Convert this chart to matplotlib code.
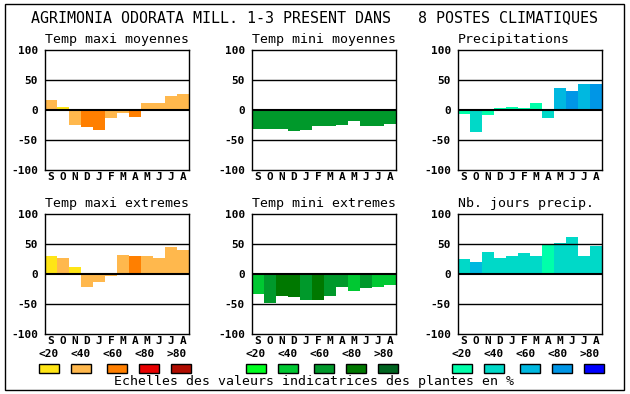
import matplotlib
matplotlib.use('Agg')
import matplotlib.pyplot as plt
from matplotlib.patches import Rectangle

W, H = 630, 394

months = ['S', 'O', 'N', 'D', 'J', 'F', 'M', 'A', 'M', 'J', 'J', 'A']
class_labels = ['<20', '<40', '<60', '<80', '>80']

warm_colors = ['#ffe516', '#ffb84d', '#ff7f00', '#e80000', '#b00c00']
green_colors = ['#00ff20', '#00c832', '#00992b', '#007800', '#006420']
blue_colors = ['#00ffaa', '#00d9c8', '#00b8e0', '#0096e6', '#0000ff']

# values in % and class index (0 = <20 ... 4 = >80)
tmax_moy = [17, 5, -25, -28, -33, -13, -5, -11, 11, 11, 24, 27]
tmax_moy_cls = [1, 0, 1, 2, 2, 1, 1, 2, 1, 1, 1, 1]
tmin_moy = [-31, -31, -31, -35, -33, -27, -27, -25, -18, -27, -27, -23]
tmin_moy_cls = [2] * 12
precip = [-6, -36, -8, 3, 5, 3, 12, -14, 37, 32, 44, 44]
precip_cls = [0, 1, 0, 0, 0, 0, 0, 1, 2, 3, 2, 3]
tmax_ext = [30, 27, 12, -21, -14, -3, 32, 30, 30, 27, 45, 40]
tmax_ext_cls = [0, 1, 0, 1, 1, 1, 1, 2, 1, 1, 1, 1]
tmin_ext = [-33, -49, -36, -38, -43, -44, -36, -21, -28, -24, -21, -18]
tmin_ext_cls = [1, 2, 3, 3, 2, 3, 2, 2, 1, 2, 1, 1]
nb_jours = [25, 20, 37, 27, 30, 35, 30, 49, 52, 62, 30, 47]
nb_jours_cls = [1, 2, 1, 1, 1, 1, 1, 0, 1, 1, 1, 1]

title = 'AGRIMONIA ODORATA MILL. 1-3 PRESENT DANS   8 POSTES CLIMATIQUES'
footer = 'Echelles des valeurs indicatrices des plantes en %'

MONO = 'DejaVu Sans Mono'
SMALL = 8

fig = plt.figure(figsize=(W / 100, H / 100), dpi=100)
fig.patch.set_facecolor('white')


def px_box(x0, y0, x1, y1):
    # pixel box (top-left origin) -> figure fraction rect
    return [x0 / W, 1 - y1 / H, (x1 - x0) / W, (y1 - y0) / H]


def panel(x0, y0, name, vals, cls, palette):
    ax = fig.add_axes(px_box(x0, y0, x0 + 144, y0 + 120))
    ax.bar(range(12), vals, width=1.0, color=[palette[c] for c in cls],
           linewidth=0, zorder=1)
    ax.set_xlim(-0.5, 11.5)
    ax.set_ylim(-100, 100)
    for v in (-50, 50):
        ax.axhline(v, color='black', lw=1.0, zorder=2)
    ax.axhline(0, color='black', lw=1.5, zorder=3)
    for s in ax.spines.values():
        s.set_linewidth(1.0)
    ax.set_yticks([-100, -50, 0, 50, 100])
    ax.set_yticklabels(['-100', '-50', '0', '50', '100'],
                       fontfamily=MONO, fontweight='bold', fontsize=SMALL)
    ax.set_xticks(range(12))
    ax.set_xticklabels(months, fontfamily=MONO, fontweight='bold',
                       fontsize=SMALL)
    ax.tick_params(length=0)
    ax.tick_params(axis='y', pad=5)
    ax.tick_params(axis='x', pad=1.5)
    # panel titles sit left-aligned on the axes edge
    fig.text(x0 / W, 1 - (y0 - 11) / H, name, fontfamily=MONO,
             fontsize=9.5, ha='left', va='center')
    return ax


cols = [45, 252, 458]
panel(cols[0], 50, 'Temp maxi moyennes', tmax_moy, tmax_moy_cls, warm_colors)
panel(cols[1], 50, 'Temp mini moyennes', tmin_moy, tmin_moy_cls, green_colors)
panel(cols[2], 50, 'Precipitations', precip, precip_cls, blue_colors)
panel(cols[0], 214, 'Temp maxi extremes', tmax_ext, tmax_ext_cls, warm_colors)
panel(cols[1], 214, 'Temp mini extremes', tmin_ext, tmin_ext_cls, green_colors)
panel(cols[2], 214, 'Nb. jours precip.', nb_jours, nb_jours_cls, blue_colors)

# legends under each column
swatch_x = [0, 32, 68, 100, 132]
for col, palette in zip(cols, [warm_colors, green_colors, blue_colors]):
    sx0 = col - 6
    for i, lab in enumerate(class_labels):
        fig.text((sx0 + 10 + i * 32) / W, 1 - 354 / H, lab, fontfamily=MONO,
                 fontweight='bold', fontsize=SMALL, ha='center', va='center')
        x = sx0 + swatch_x[i]
        fig.patches.append(Rectangle((x / W, 1 - 373 / H), 20 / W, 9 / H,
                                     transform=fig.transFigure,
                                     facecolor=palette[i], edgecolor='black',
                                     lw=1.0))

fig.text(31 / W, 1 - 18 / H, title, fontfamily=MONO, fontsize=10.8,
         ha='left', va='center')
fig.text(314 / W, 1 - 382 / H, footer, fontfamily=MONO, fontsize=9.5,
         ha='center', va='center')

# outer frame
fig.patches.append(Rectangle((5 / W, 1 - 390 / H), 619 / W, 386 / H,
                             transform=fig.transFigure, fill=False,
                             edgecolor='black', lw=1.0))

fig.savefig('out.png', dpi=100)
